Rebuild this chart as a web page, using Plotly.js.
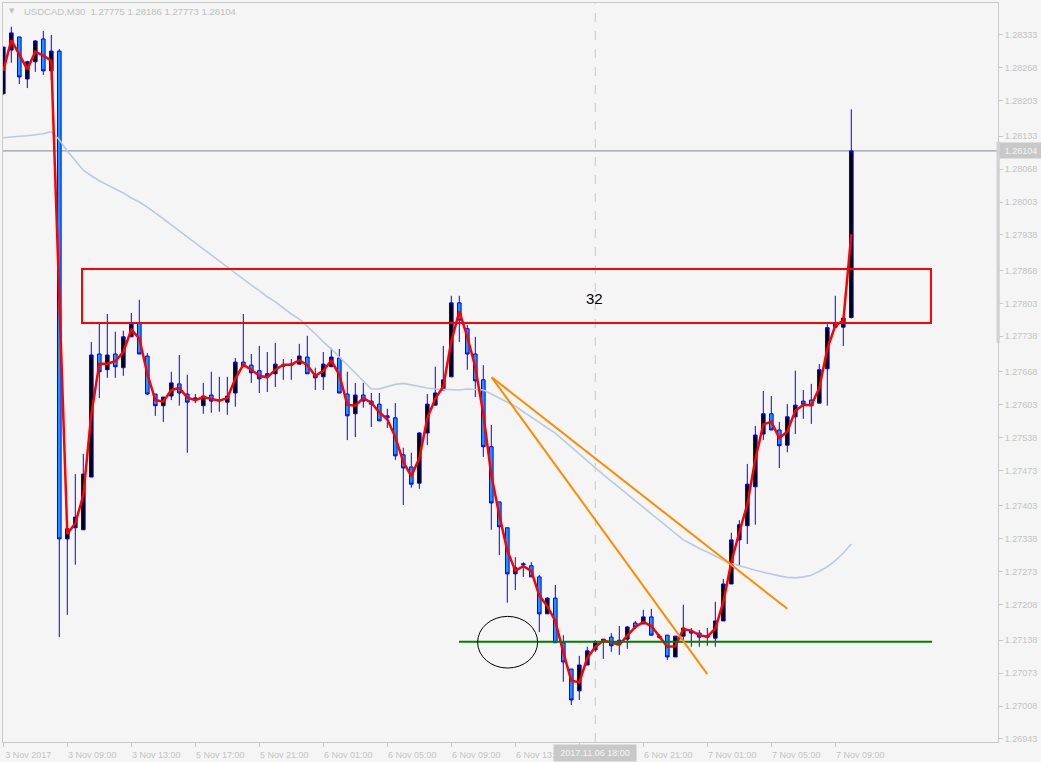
<!DOCTYPE html>
<html>
<head>
<meta charset="utf-8">
<script src="https://cdn.plot.ly/plotly-3.0.1.min.js"></script>
<style>html,body{margin:0;padding:0;background:#f5f5f5;}#chart{width:1041px;height:762px;}</style>
</head>
<body>
<div id="chart"></div>
<script>
// USDCAD M30, bars from 3 Nov 2017 05:00 to 7 Nov 2017 10:00 (bar index 0..106)
const open = [1.28217,1.28303,1.28329,1.28246,1.28280,1.28325,1.28262,1.28301,1.27338,1.27360,
1.27356,1.27460,1.27703,1.27672,1.27703,1.27676,1.27737,1.27764,1.27699,1.27624,
1.27601,1.27620,1.27644,1.27624,1.27614,1.27601,1.27622,1.27612,1.27608,1.27626,
1.27687,1.27681,1.27670,1.27664,1.27664,1.27679,1.27681,1.27683,1.27697,1.27662,
1.27658,1.27678,1.27695,1.27624,1.27585,1.27622,1.27610,1.27604,1.27581,1.27577,
1.27504,1.27480,1.27448,1.27547,1.27602,1.27632,1.27658,1.27804,1.27753,1.27703,
1.27652,1.27520,1.27411,1.27360,1.27269,1.27289,1.27285,1.27263,1.27190,1.27221,
1.27133,1.27081,1.27038,1.27089,1.27119,1.27137,1.27144,1.27138,1.27140,1.27172,
1.27170,1.27184,1.27146,1.27148,1.27105,1.27146,1.27156,1.27152,1.27144,1.27142,
1.27176,1.27249,1.27336,1.27364,1.27441,1.27545,1.27585,1.27553,1.27523,1.27579,
1.27610,1.27612,1.27606,1.27674,1.27756,1.27756,1.27775];
const high = [1.28309,1.28349,1.28329,1.28282,1.28323,1.28341,1.28333,1.28305,1.27360,1.27466,
1.27506,1.27727,1.27764,1.27782,1.27747,1.27749,1.27784,1.27810,1.27705,1.27624,
1.27618,1.27668,1.27701,1.27662,1.27624,1.27646,1.27668,1.27658,1.27658,1.27695,
1.27782,1.27703,1.27719,1.27707,1.27725,1.27693,1.27693,1.27723,1.27739,1.27676,
1.27707,1.27715,1.27713,1.27668,1.27646,1.27646,1.27626,1.27626,1.27595,1.27606,
1.27518,1.27508,1.27549,1.27624,1.27678,1.27719,1.27818,1.27818,1.27760,1.27737,
1.27681,1.27563,1.27411,1.27360,1.27302,1.27292,1.27292,1.27267,1.27223,1.27247,
1.27148,1.27081,1.27107,1.27125,1.27138,1.27140,1.27152,1.27166,1.27166,1.27176,
1.27198,1.27200,1.27150,1.27148,1.27146,1.27208,1.27162,1.27158,1.27162,1.27214,
1.27259,1.27350,1.27375,1.27486,1.27561,1.27630,1.27620,1.27569,1.27604,1.27670,
1.27632,1.27644,1.27683,1.27762,1.27818,1.27774,1.28186];
const low = [1.28215,1.28278,1.28236,1.28228,1.28260,1.28254,1.28244,1.27144,1.27188,1.27287,
1.27356,1.27460,1.27616,1.27656,1.27656,1.27660,1.27737,1.27703,1.27622,1.27581,
1.27569,1.27612,1.27601,1.27508,1.27606,1.27585,1.27587,1.27589,1.27583,1.27599,
1.27678,1.27646,1.27626,1.27628,1.27638,1.27652,1.27652,1.27683,1.27664,1.27632,
1.27632,1.27678,1.27626,1.27533,1.27539,1.27597,1.27559,1.27571,1.27557,1.27494,
1.27405,1.27439,1.27437,1.27523,1.27602,1.27632,1.27658,1.27727,1.27672,1.27618,
1.27500,1.27356,1.27306,1.27212,1.27237,1.27263,1.27263,1.27154,1.27190,1.27133,
1.27056,1.27010,1.27020,1.27089,1.27115,1.27101,1.27115,1.27109,1.27121,1.27160,
1.27170,1.27148,1.27140,1.27099,1.27105,1.27138,1.27125,1.27125,1.27127,1.27125,
1.27176,1.27249,1.27285,1.27328,1.27366,1.27533,1.27553,1.27478,1.27509,1.27545,
1.27575,1.27565,1.27606,1.27601,1.27756,1.27719,1.27773];
const close = [1.28309,1.28337,1.28250,1.28280,1.28321,1.28262,1.28301,1.27338,1.27358,1.27381,
1.27466,1.27701,1.27668,1.27701,1.27678,1.27737,1.27764,1.27703,1.27624,1.27601,
1.27618,1.27646,1.27626,1.27608,1.27616,1.27620,1.27610,1.27611,1.27620,1.27687,
1.27678,1.27666,1.27654,1.27660,1.27683,1.27681,1.27683,1.27699,1.27664,1.27656,
1.27683,1.27697,1.27626,1.27581,1.27622,1.27610,1.27604,1.27571,1.27577,1.27502,
1.27478,1.27446,1.27547,1.27604,1.27626,1.27652,1.27804,1.27770,1.27703,1.27650,
1.27520,1.27409,1.27362,1.27269,1.27281,1.27287,1.27263,1.27190,1.27221,1.27133,
1.27095,1.27020,1.27089,1.27117,1.27133,1.27140,1.27127,1.27131,1.27164,1.27164,
1.27184,1.27148,1.27144,1.27105,1.27146,1.27162,1.27152,1.27144,1.27146,1.27176,
1.27249,1.27336,1.27366,1.27446,1.27543,1.27585,1.27553,1.27522,1.27579,1.27602,
1.27604,1.27601,1.27672,1.27755,1.27764,1.27774,1.28104];
// fast moving average (red), read per bar
const maFast = [1.28262,1.28323,1.28294,1.28265,1.28300,1.28292,1.28282,1.27820,1.27348,1.27369,
1.27424,1.27584,1.27684,1.27684,1.27689,1.27707,1.27751,1.27734,1.27664,1.27612,
1.27609,1.27632,1.27636,1.27617,1.27612,1.27618,1.27615,1.27611,1.27616,1.27654,
1.27682,1.27672,1.27660,1.27657,1.27672,1.27682,1.27682,1.27691,1.27681,1.27660,
1.27670,1.27690,1.27662,1.27603,1.27601,1.27616,1.27607,1.27588,1.27574,1.27539,
1.27490,1.27462,1.27497,1.27576,1.27615,1.27639,1.27728,1.27787,1.27737,1.27677,
1.27585,1.27464,1.27385,1.27315,1.27275,1.27284,1.27275,1.27226,1.27205,1.27176,
1.27114,1.27058,1.27055,1.27103,1.27125,1.27137,1.27134,1.27129,1.27147,1.27164,
1.27174,1.27166,1.27146,1.27125,1.27126,1.27160,1.27157,1.27148,1.27145,1.27161,
1.27213,1.27292,1.27351,1.27406,1.27495,1.27564,1.27569,1.27537,1.27550,1.27591,
1.27603,1.27602,1.27636,1.27713,1.27759,1.27769,1.27939];
// slow moving average (light steel blue), read per bar
const maSlow = [1.28130,1.28132,1.28133,1.28134,1.28136,1.28138,1.28142,1.28126,1.28104,1.28084,
1.28066,1.28055,1.28045,1.28037,1.28029,1.28021,1.28011,1.28003,1.27993,1.27982,
1.27970,1.27958,1.27946,1.27934,1.27922,1.27910,1.27899,1.27887,1.27875,1.27863,
1.27851,1.27839,1.27828,1.27816,1.27806,1.27794,1.27782,1.27772,1.27758,1.27743,
1.27727,1.27713,1.27697,1.27681,1.27666,1.27648,1.27634,1.27634,1.27638,1.27643,
1.27645,1.27642,1.27638,1.27636,1.27634,1.27633,1.27632,1.27632,1.27634,1.27633,
1.27632,1.27624,1.27616,1.27608,1.27600,1.27589,1.27579,1.27568,1.27557,1.27547,
1.27533,1.27520,1.27506,1.27492,1.27478,1.27465,1.27452,1.27439,1.27426,1.27413,
1.27400,1.27387,1.27374,1.27362,1.27349,1.27336,1.27328,1.27319,1.27312,1.27304,
1.27296,1.27290,1.27285,1.27280,1.27276,1.27272,1.27268,1.27265,1.27262,1.27261,
1.27263,1.27266,1.27274,1.27283,1.27295,1.27310,1.27328];

const xTickIdx = [0,8,16,24,32,40,48,56,64,72,80,88,96,104];
// the 6 Nov 17:00 label sits under the crosshair time box in the reference
const xTickText = ['3 Nov 2017','3 Nov 09:00','3 Nov 13:00','5 Nov 17:00','5 Nov 21:00','6 Nov 01:00','6 Nov 05:00','6 Nov 09:00','6 Nov 13:00','','6 Nov 21:00','7 Nov 01:00','7 Nov 05:00','7 Nov 09:00'];
const yTicks = [1.28333,1.28268,1.28203,1.28133,1.28068,1.28003,1.27938,1.27868,1.27803,1.27738,1.27668,1.27603,1.27538,1.27473,1.27403,1.27338,1.27273,1.27208,1.27138,1.27073,1.27008,1.26943];

const title = 'USDCAD,M30  1.27775 1.28186 1.27773 1.28104';
const lastPrice = 1.28104;
const crossLabel = '2017.11.06 18:00';
const crossIdx = 74;
const zoneLow = 1.27764, zoneHigh = 1.27871, zoneStart = 9.84, zoneEnd = 115.96;
const supportLevel = 1.27135, supportStart = 56.96, supportEnd = 116.1;
const trendStart = [61.05, 1.27657];
const trendEnd1 = [98.0, 1.27200];
const trendEnd2 = [88.0, 1.27071];
const circle = {x0: 59.29, x1: 66.79, y0: 1.27083, y1: 1.27185};
const noteText = '32', noteX = 73.96, noteY = 1.27812;

const idx = open.map((_, i) => i);
const font = 'Liberation Sans, Arial, sans-serif';
const grey = '#c8c8c8';

const traces = [
  {
    type: 'candlestick', x: idx, open: open, high: high, low: low, close: close,
    increasing: {line: {color: '#0000ff', width: 1}, fillcolor: '#000000'},
    decreasing: {line: {color: '#0000ff', width: 1}, fillcolor: '#1e90ff'},
    whiskerwidth: 0, hoverinfo: 'skip'
  },
  {type: 'scatter', mode: 'lines', x: idx, y: maSlow, line: {color: '#b9cae2', width: 1.6}, hoverinfo: 'skip'},
  {type: 'scatter', mode: 'lines', x: idx, y: maFast, line: {color: '#ff0000', width: 2.5}, hoverinfo: 'skip'}
];

const layout = {
  width: 1041, height: 762,
  paper_bgcolor: '#f5f5f5', plot_bgcolor: '#f5f5f5',
  margin: {l: 3, r: 43, t: 3, b: 20},
  showlegend: false, hovermode: false, boxgap: 0.35,
  xaxis: {
    range: [-0.0375, 124.3375], rangeslider: {visible: false},
    tickvals: xTickIdx, ticktext: xTickText, tickangle: 0,
    ticks: 'outside', ticklen: 4, tickcolor: grey, ticklabelshift: 25,
    tickfont: {family: font, size: 9, color: '#c4c4c4'},
    showgrid: false, zeroline: false, showline: true, linecolor: grey, linewidth: 1, mirror: true
  },
  yaxis: {
    side: 'right', range: [1.26937, 1.28396],
    tickvals: yTicks, tickformat: '.5f',
    ticks: 'outside', ticklen: 4, tickcolor: grey,
    tickfont: {family: font, size: 9, color: '#c4c4c4'},
    showgrid: false, zeroline: false, showline: true, linecolor: grey, linewidth: 1, mirror: true
  },
  shapes: [
    {type: 'line', xref: 'paper', x0: 0, x1: 1, yref: 'y', y0: lastPrice, y1: lastPrice, line: {color: '#7d8792', width: 1}, layer: 'below'},
    {type: 'line', xref: 'x', x0: crossIdx, x1: crossIdx, yref: 'paper', y0: 0, y1: 1, line: {color: '#c8c8c8', width: 1, dash: 'dash'}, layer: 'below'},
    {type: 'rect', xref: 'paper', x0: 0.9985, x1: 1.0018, yref: 'y', y0: 1.27725, y1: 1.28122, fillcolor: '#d2d2d2', line: {width: 0}},
    {type: 'rect', xref: 'x', yref: 'y', x0: zoneStart, x1: zoneEnd, y0: zoneLow, y1: zoneHigh, line: {color: '#ff0000', width: 2}, fillcolor: 'rgba(0,0,0,0)'},
    {type: 'line', xref: 'x', yref: 'y', x0: supportStart, x1: supportEnd, y0: supportLevel, y1: supportLevel, line: {color: '#008000', width: 2}},
    {type: 'line', xref: 'x', yref: 'y', x0: trendStart[0], y0: trendStart[1], x1: trendEnd1[0], y1: trendEnd1[1], line: {color: '#ff8c00', width: 2}},
    {type: 'line', xref: 'x', yref: 'y', x0: trendStart[0], y0: trendStart[1], x1: trendEnd2[0], y1: trendEnd2[1], line: {color: '#ff8c00', width: 2}},
    {type: 'circle', xref: 'x', yref: 'y', x0: circle.x0, x1: circle.x1, y0: circle.y0, y1: circle.y1, line: {color: '#000000', width: 1}, fillcolor: 'rgba(0,0,0,0)'}
  ],
  annotations: [
    {xref: 'paper', yref: 'paper', x: 0.004, y: 0.989, xanchor: 'left', yanchor: 'middle', text: '▼', showarrow: false, font: {family: 'DejaVu Sans', size: 7, color: '#c0c0c0'}},
    {xref: 'paper', yref: 'paper', x: 0.016, y: 0.989, xanchor: 'left', yanchor: 'middle', xshift: 3, text: title, showarrow: false, font: {family: font, size: 9.5, color: '#c0c0c0'}},
    {xref: 'x', yref: 'y', x: noteX, y: noteY, text: noteText, showarrow: false, font: {family: font, size: 15, color: '#000000'}},
    {xref: 'x', yref: 'paper', x: crossIdx, y: 0, yanchor: 'top', yshift: -2, text: crossLabel, showarrow: false, bgcolor: '#c8c8c8', width: 80, height: 14, borderpad: 1, font: {family: font, size: 9, color: '#f5f5f5'}},
    {xref: 'paper', yref: 'y', x: 1, y: lastPrice, xanchor: 'left', xshift: 1, text: lastPrice.toFixed(5), showarrow: false, bgcolor: '#c8c8c8', width: 40, height: 13, borderpad: 1, font: {family: font, size: 9, color: '#f5f5f5'}}
  ]
};

Plotly.newPlot('chart', traces, layout, {staticPlot: true, displayModeBar: false});
</script>
</body>
</html>
